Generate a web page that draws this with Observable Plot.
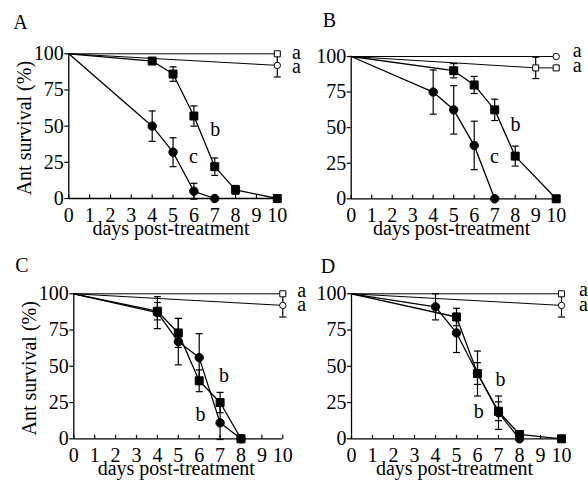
<!DOCTYPE html>
<html><head><meta charset="utf-8">
<script src="https://cdn.jsdelivr.net/npm/d3@7"></script>
<script src="https://cdn.jsdelivr.net/npm/@observablehq/plot@0.6"></script>
<style>
body{margin:0;background:#fff;}
#fig{position:relative;width:588px;height:484px;background:#fff;overflow:hidden;}
</style></head><body><div id="fig"></div>
<script>
const FONT = "Liberation Serif, Times New Roman, DejaVu Serif, serif";
const dayTicks = d3.range(0, 11);
const survivalTicks = [0, 25, 50, 75, 100];
const panelNames = ["A", "B", "C", "D"];
const xTitle = "days post-treatment";
const yTitle = "Ant survival (%)";

// each row: [day, survival %, error]
const openSquareA = [[0,100,0],[10,100,0]];
const openCircleA = [[0,100,0],[10,92,8]];
const fullSquareA = [[0,100,0],[4,95,2],[5,86,5],[6,57,7],[7,22,6],[8,6,3],[10,0,0]];
const fullCircleA = [[0,100,0],[4,50,10.5],[5,32,10],[6,5,5.5],[7,0,0]];

const openCircleB = [[0,100,0],[10,100,0]];
const openSquareB = [[0,100,0],[9,92,7.5],[10,92,0]];
const fullSquareB = [[0,100,0],[5,90,5],[6,80,6],[7,62.5,7.5],[8,30,7],[10,0,0]];
const fullCircleB = [[0,100,0],[4,75,15.5],[5,62.5,17],[6,37.5,17],[7,0,0]];

const openSquareC = [[0,100,0],[10,100,0]];
const openCircleC = [[0,100,0],[10,92,8]];
const fullSquareC = [[0,100,0],[4,88,6],[5,73,10],[6,40,7.5],[7,25,7],[8,0,0]];
const fullCircleC = [[0,100,0],[4,87,11],[5,67,16],[6,56,16.5],[7,11,11.5],[8,0,0]];

const openSquareD = [[0,100,0],[10,100,0]];
const openCircleD = [[0,100,0],[10,92,8]];
const fullSquareD = [[0,100,0],[5,84,6],[6,45,7.5],[7,19,6.5],[8,3,2],[10,0,0]];
const fullCircleD = [[0,100,0],[4,91,9],[5,73,13.5],[6,45,15.5],[7,18,11.5],[8,0,0]];

// significance letters: [day, survival, text]
const lettersA = [[10.92,101,"a"],[10.92,90.9,"a"],[7.02,47.4,"b"],[5.98,28.9,"c"]];
const lettersB = [[11.02,103.8,"a"],[11.02,93.3,"a"],[8.02,52.3,"b"],[6.99,29.4,"c"]];
const lettersC = [[10.9,102.5,"a"],[10.9,92.7,"a"],[7.19,43.3,"b"],[6.06,16.8,"b"]];
const lettersD = [[11.05,102.6,"a"],[11.05,92.7,"a"],[7.1,41,"b"],[6.06,18.5,"b"]];

const dataByPanel = {
  A: {openSquare: openSquareA, openCircle: openCircleA, fullSquare: fullSquareA, fullCircle: fullCircleA, letters: lettersA},
  B: {openSquare: openSquareB, openCircle: openCircleB, fullSquare: fullSquareB, fullCircle: fullCircleB, letters: lettersB},
  C: {openSquare: openSquareC, openCircle: openCircleC, fullSquare: fullSquareC, fullCircle: fullCircleC, letters: lettersC},
  D: {openSquare: openSquareD, openCircle: openCircleD, fullSquare: fullSquareD, fullCircle: fullCircleD, letters: lettersD}
};

// layout (pixels)
const layout = {
  A: {left: 0,   top: 0,   mL: 68.3, mR: 17.2, mT: 53.3, mB: 44,   yTitle: true,  ldx: -48.3, ldy: -31.6},
  B: {left: 294, top: 0,   mL: 56.7, mR: 32.3, mT: 56,   mB: 43.7, yTitle: false, ldx: -21.7, ldy: -36},
  C: {left: 0,   top: 242, mL: 73.3, mR: 11.7, mT: 51.3, mB: 45.7, yTitle: true,  ldx: -51.8, ldy: -27.8},
  D: {left: 294, top: 242, mL: 57,   mR: 27,   mT: 51.3, mB: 45.7, yTitle: false, ldx: -23.5, ldy: -27.3}
};

const seriesStyle = [
  {key: "openSquare", symbol: "square", fill: "white", r: 3.4, lw: 1},
  {key: "openCircle", symbol: "circle", fill: "white", r: 3.2, lw: 1},
  {key: "fullSquare", symbol: "square", fill: "black", r: 4.5, lw: 1.3},
  {key: "fullCircle", symbol: "circle", fill: "black", r: 4.2, lw: 1.3}
];

// horizontal cap for error bars, and upward tick for the day axis
const capSymbol = {draw(ctx, size) { const w = Math.sqrt(size / Math.PI); ctx.moveTo(-w, 0); ctx.lineTo(w, 0); }};
const upTickSymbol = {draw(ctx, size) { const w = Math.sqrt(size / Math.PI); ctx.moveTo(0, 0); ctx.lineTo(0, -w); }};

const toRows = arr => arr.map(([day, s, e]) => ({day, s, e}));

function makePanel(name) {
  const L = layout[name];
  const D = dataByPanel[name];
  const marks = [
    Plot.ruleY([0], {stroke: "#000", strokeWidth: 1.3}),
    Plot.ruleX([0], {stroke: "#000", strokeWidth: 1.3}),
    Plot.axisY({ticks: survivalTicks, tickSize: 4, tickPadding: 1, fontSize: 20, fontFamily: FONT, fill: "#000", stroke: "#000", strokeWidth: 1.2}),
    Plot.dot(dayTicks, {x: d => d, y: 0, symbol: upTickSymbol, r: 4, stroke: "#000", strokeWidth: 1.2, fill: "none"}),
    Plot.axisX({ticks: dayTicks, tickSize: 0, tickPadding: 9, fontSize: 20, fontFamily: FONT, fill: "#000"})
  ];
  for (const st of seriesStyle) {
    marks.push(Plot.line(toRows(D[st.key]), {x: "day", y: "s", stroke: "#000", strokeWidth: st.lw}));
  }
  for (const st of seriesStyle) {
    const err = toRows(D[st.key]).filter(d => d.e > 0);
    marks.push(Plot.ruleX(err, {x: "day", y1: d => d.s - d.e, y2: d => d.s + d.e, stroke: "#000", strokeWidth: 1.2}));
    marks.push(Plot.dot(err, {x: "day", y: d => d.s + d.e, symbol: capSymbol, r: 3.5, stroke: "#000", strokeWidth: 1.2, fill: "none"}));
    marks.push(Plot.dot(err, {x: "day", y: d => d.s - d.e, symbol: capSymbol, r: 3.5, stroke: "#000", strokeWidth: 1.2, fill: "none"}));
  }
  for (const st of seriesStyle) {
    const pts = toRows(D[st.key]).filter(d => d.day > 0);
    marks.push(Plot.dot(pts, {x: "day", y: "s", symbol: st.symbol, r: st.r, fill: st.fill, stroke: "#000", strokeWidth: 1}));
  }
  marks.push(Plot.text(D.letters, {x: d => d[0], y: d => d[1], text: d => d[2], fontSize: 20, fontFamily: FONT, fill: "#000", textAnchor: "middle", lineAnchor: "middle"}));
  marks.push(Plot.text([xTitle], {frameAnchor: "bottom", textAnchor: "middle", dx: -2, dy: 29.6, fontSize: 20, fontFamily: FONT, fill: "#000", lineAnchor: "middle"}));
  if (L.yTitle) {
    marks.push(Plot.text([yTitle], {frameAnchor: "left", textAnchor: "middle", rotate: -90, dx: -44.6, dy: 2, fontSize: 20, fontFamily: FONT, fill: "#000", lineAnchor: "middle"}));
  }
  marks.push(Plot.text([name], {frameAnchor: "top-left", dx: L.ldx, dy: L.ldy, fontSize: 20, fontFamily: FONT, fill: "#000", textAnchor: "middle", lineAnchor: "middle"}));

  return Plot.plot({
    width: 294, height: 242,
    marginLeft: L.mL, marginRight: L.mR, marginTop: L.mT, marginBottom: L.mB,
    x: {domain: [0, 10], label: null},
    y: {domain: [0, 100], label: null},
    style: `position:absolute;left:${L.left}px;top:${L.top}px;background:transparent;overflow:visible;font-family:${FONT};`,
    marks
  });
}

const fig = document.getElementById("fig");
for (const n of panelNames) fig.appendChild(makePanel(n));
</script></body></html>
